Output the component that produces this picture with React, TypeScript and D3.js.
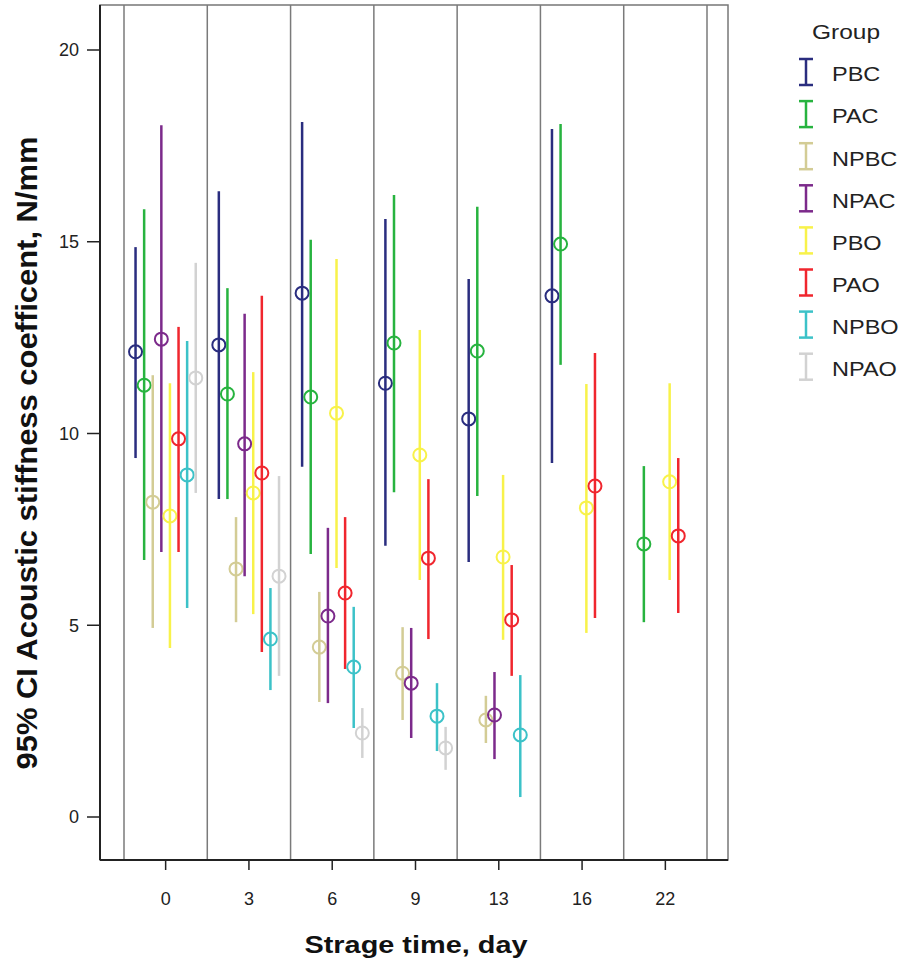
import React from 'react';
import * as d3 from 'd3';

const days = ['0', '3', '6', '9', '13', '16', '22'];
const groups = ['PBC', 'PAC', 'NPBC', 'NPAC', 'PBO', 'PAO', 'NPBO', 'NPAO'];
const colors = ['#2a2d7f', '#27b33f', '#d3cc95', '#7c2a8b', '#f8f24a', '#f0262e', '#3cc2c8', '#d2d2d2'];

// [mean, lower, upper] per day, null where the group has no data
type CI = [number, number, number] | null;
const PBC: CI[] = [[12.13, 9.36, 14.86], [12.31, 8.29, 16.32], [13.66, 9.13, 18.12], [11.31, 7.07, 15.59], [10.38, 6.65, 14.03], [13.59, 9.23, 17.94], null];
const PAC: CI[] = [[11.26, 6.7, 15.85], [11.03, 8.29, 13.79], [10.95, 6.86, 15.05], [12.36, 8.47, 16.22], [12.15, 8.37, 15.91], [14.94, 11.79, 18.07], [7.12, 5.08, 9.15]];
const NPBC: CI[] = [[8.21, 4.93, 11.52], [6.47, 5.08, 7.82], [4.43, 3.0, 5.87], [3.75, 2.53, 4.95], [2.53, 1.93, 3.16], null, null];
const NPAC: CI[] = [[12.46, 6.91, 18.04], [9.73, 6.28, 13.12], [5.24, 2.97, 7.54], [3.49, 2.06, 4.93], [2.66, 1.51, 3.78], null, null];
const PBO: CI[] = [[7.85, 4.41, 11.31], [8.45, 5.29, 11.6], [10.53, 6.49, 14.55], [9.44, 6.18, 12.7], [6.78, 4.62, 8.92], [8.06, 4.8, 11.29], [8.74, 6.18, 11.31]];
const PAO: CI[] = [[9.86, 6.91, 12.78], [8.97, 4.3, 13.59], [5.84, 3.86, 7.82], [6.75, 4.64, 8.81], [5.14, 3.68, 6.57], [8.63, 5.19, 12.1], [7.33, 5.32, 9.36]];
const NPBO: CI[] = [[8.92, 5.45, 12.41], [4.64, 3.31, 5.97], [3.91, 2.32, 5.48], [2.63, 1.72, 3.49], [2.14, 0.52, 3.7], null, null];
const NPAO: CI[] = [[11.45, 8.45, 14.45], [6.28, 3.68, 8.89], [2.19, 1.54, 2.84], [1.8, 1.23, 2.35], null, null, null];
const series = [PBC, PAC, NPBC, NPAC, PBO, PAO, NPBO, NPAO];

const yTicks = [0, 5, 10, 15, 20];

const font = 'Arial, "Liberation Sans", sans-serif';

export default function App() {
  const left = 100, right = 728, top = 5, bottom = 860;

  const y = d3.scaleLinear().domain([0, 20]).range([817, 50]);
  const x = d3.scaleBand().domain(days).range([124, 707]).padding(0);
  const gx = d3.scalePoint().domain(groups).range([-30.1, 30.1]);
  const bw = x.bandwidth();
  const lastEdge = x(days[days.length - 1])! + bw;

  return (
    <svg width={907} height={965} style={{ position: 'absolute', left: 0, top: 0, background: '#fff' }}>
      {/* frame */}
      <rect x={left} y={top} width={right - left} height={bottom - top} fill="none" stroke="#777" strokeWidth={1.5} />
      {/* category separators */}
      {days.map(d => (
        <line key={'s' + d} x1={x(d)} x2={x(d)} y1={top} y2={bottom} stroke="#7a7a7a" strokeWidth={1.5} />
      ))}
      <line x1={lastEdge} x2={lastEdge} y1={top} y2={bottom} stroke="#7a7a7a" strokeWidth={1.5} />

      {/* axes */}
      <line x1={left} x2={left} y1={top} y2={bottom} stroke="#222" strokeWidth={2} />
      <line x1={left} x2={right} y1={bottom} y2={bottom} stroke="#222" strokeWidth={2} />
      {yTicks.map(t => (
        <g key={'y' + t}>
          <line x1={left - 13} x2={left} y1={y(t)} y2={y(t)} stroke="#222" strokeWidth={1.5} />
          <text x={left - 21} y={y(t)} dy="0.35em" textAnchor="end" fontFamily={font} fontSize={18} fill="#222">{t}</text>
        </g>
      ))}
      {days.map(d => (
        <g key={'x' + d}>
          <line x1={x(d)! + bw / 2} x2={x(d)! + bw / 2} y1={bottom} y2={bottom + 10} stroke="#222" strokeWidth={1.5} />
          <text x={x(d)! + bw / 2} y={905} textAnchor="middle" fontFamily={font} fontSize={18} fill="#222">{d}</text>
        </g>
      ))}

      {/* error bars */}
      {series.map((s, gi) => s.map((v, di) => {
        if (!v) return null;
        const cx = x(days[di])! + bw / 2 + gx(groups[gi])!;
        return (
          <g key={gi + '-' + di}>
            <line x1={cx} x2={cx} y1={y(v[1])} y2={y(v[2])} stroke={colors[gi]} strokeWidth={2.5} />
            <circle cx={cx} cy={y(v[0])} r={6.5} fill="none" stroke={colors[gi]} strokeWidth={2} />
          </g>
        );
      }))}

      {/* axis titles */}
      <text x={416} y={953} textAnchor="middle" fontFamily={font} fontWeight="bold" fontSize={23} fill="#111"
        textLength={223} lengthAdjust="spacingAndGlyphs">Strage time, day</text>
      <text transform="translate(37,453) rotate(-90)" textAnchor="middle" fontFamily={font} fontWeight="bold" fontSize={30} fill="#111"
        textLength={633} lengthAdjust="spacingAndGlyphs">95% CI Acoustic stiffness coefficent, N/mm</text>

      {/* legend */}
      <text x={846} y={39} textAnchor="middle" fontFamily={font} fontSize={21} fill="#222"
        textLength={68} lengthAdjust="spacingAndGlyphs">Group</text>
      {groups.map((g, i) => {
        const ly = 72 + i * 42.1;
        return (
          <g key={'l' + g}>
            <line x1={806} x2={806} y1={ly - 13} y2={ly + 13} stroke={colors[i]} strokeWidth={2.5} />
            <line x1={799} x2={813} y1={ly - 13} y2={ly - 13} stroke={colors[i]} strokeWidth={2.5} />
            <line x1={799} x2={813} y1={ly + 13} y2={ly + 13} stroke={colors[i]} strokeWidth={2.5} />
            <text x={832} y={ly + 2} dy="0.35em" fontFamily={font} fontSize={21} fill="#222"
              transform={`translate(832,0) scale(1.12,1) translate(-832,0)`}>{g}</text>
          </g>
        );
      })}
    </svg>
  );
}
